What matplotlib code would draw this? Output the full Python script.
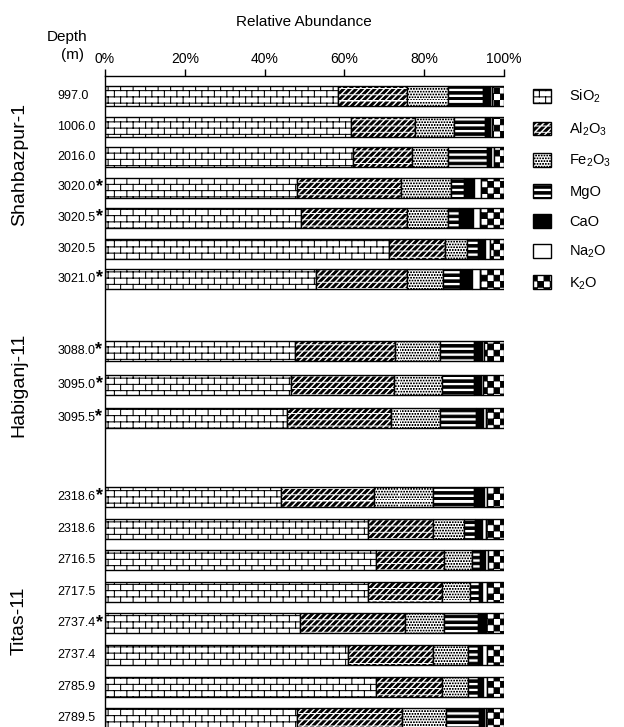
import numpy as np
import matplotlib
matplotlib.use('Agg')
import matplotlib.pyplot as plt
import matplotlib.hatch as mhatch
from matplotlib.path import Path
from matplotlib.patches import Patch

# ---- data -----------------------------------------------------------------
wells = ['Shahbazpur-1', 'Habiganj-11', 'Titas-11']
depths = [
    ['997.0', '1006.0', '2016.0', '3020.0*', '3020.5*', '3020.5', '3021.0*'],
    ['3088.0*', '3095.0*', '3095.5*'],
    ['2318.6*', '2318.6', '2716.5', '2717.5', '2737.4*', '2737.4', '2785.9', '2789.5'],
]
oxides = ['SiO$_2$', 'Al$_2$O$_3$', 'Fe$_2$O$_3$', 'MgO', 'CaO', 'Na$_2$O', 'K$_2$O']

# relative abundance (%) per oxide, samples in the order above
sio2  = [58.3, 61.6, 62.1, 48.0, 49.0, 71.3, 52.9, 47.5, 46.5, 45.5, 44.0, 65.8, 67.8, 66.0, 48.9, 61.0, 67.8, 48.2]
al2o3 = [17.5, 16.2, 14.9, 26.3, 26.6, 13.9, 22.7, 25.2, 26.0, 26.2, 23.4, 16.5, 17.2, 18.4, 26.3, 21.3, 16.6, 26.2]
fe2o3 = [10.2,  9.7,  9.0, 12.4, 10.4,  5.5,  9.2, 11.3, 11.9, 12.2, 14.9,  7.8,  6.9,  7.1,  9.8,  8.6,  6.7, 11.0]
mgo   = [ 8.8,  7.8,  9.7,  3.3,  2.8,  2.8,  4.2,  8.5,  8.0,  9.0, 10.1,  2.6,  2.2,  2.3,  8.6,  2.7,  2.5,  8.4]
cao   = [ 1.7,  1.2,  1.1,  2.6,  3.4,  1.8,  3.1,  1.9,  1.8,  1.9,  2.7,  1.9,  1.1,  0.8,  1.6,  1.0,  1.2,  1.2]
na2o  = [ 0.6,  0.5,  0.8,  1.7,  1.9,  1.2,  2.0,  0.6,  0.5,  0.7,  0.7,  0.9,  0.9,  1.1,  0.3,  1.2,  1.0,  0.5]
k2o   = [ 2.9,  3.0,  2.4,  5.7,  5.9,  3.5,  5.9,  5.0,  5.3,  4.5,  4.2,  4.5,  3.9,  4.3,  4.5,  4.2,  4.2,  4.5]


# ---- custom fill patterns (1 tile = 1 inch) --------------------------------
class Bricks(mhatch.HatchPatternBase):
    def __init__(self, hatch, density):
        self.n = 16 if 'o' in hatch else 0
        self.num_vertices = self.n * 2 + (self.n + 1) * (self.n // 2) * 2 if self.n else 0

    def set_vertices_and_codes(self, vertices, codes):
        n = self.n
        h = 1.0 / n
        v = []
        for k in range(n):
            y = (k + 0.5) * h
            v += [(0, y), (1, y)]
        for k in range(-1, n):
            off = (k % 2) * h + 0.3 * h
            for j in range(n // 2):
                x = j * 2 * h + off
                v += [(x, (k + 0.5) * h), (x, (k + 1.5) * h)]
        vertices[:] = v
        codes[0::2] = Path.MOVETO
        codes[1::2] = Path.LINETO


def _boxes(vertices, codes, polys):
    pts = []
    for p in polys:
        pts += list(p) + [p[0]]
    vertices[:] = pts
    codes[:] = np.tile([Path.MOVETO, Path.LINETO, Path.LINETO, Path.LINETO, Path.CLOSEPOLY], len(polys))


class Checks(mhatch.HatchPatternBase):
    def __init__(self, hatch, density):
        self.n = 16 if 'O' in hatch else 0
        self.num_vertices = self.n * self.n // 2 * 5

    def set_vertices_and_codes(self, vertices, codes):
        s = 1.0 / self.n
        e = 0.003
        polys = []
        for i in range(self.n):
            for j in range(self.n):
                if (i + j) % 2 == 0:
                    x, y = i * s, j * s
                    polys.append([(x + e, y + e), (x + s - e, y + e), (x + s - e, y + s - e), (x + e, y + s - e)])
        _boxes(vertices, codes, polys)


class Stripes(mhatch.HatchPatternBase):
    def __init__(self, hatch, density):
        self.n = 17 if '-' in hatch else 0
        self.num_vertices = self.n * 5

    def set_vertices_and_codes(self, vertices, codes):
        s = 1.0 / self.n
        t = 0.42 * s
        polys = [[(-0.01, k * s), (1.01, k * s), (1.01, k * s + t), (-0.01, k * s + t)] for k in range(self.n)]
        _boxes(vertices, codes, polys)


class DiagDash(mhatch.HatchPatternBase):
    def __init__(self, hatch, density):
        self.n = 16 if '/' in hatch else 0
        self.num_vertices = (2 * self.n + 1) * (self.n + 1) * 5 if self.n else 0

    def set_vertices_and_codes(self, vertices, codes):
        n = self.n
        d = 1.0 / n
        wx, L = 0.027, 0.042
        polys = []
        for m in range(-n, n + 1):
            c = m * d
            for j in range(-1, n):
                a = j * d
                polys.append([(c + a, a), (c + a + wx, a), (c + a + L + wx, a + L), (c + a + L, a + L)])
        _boxes(vertices, codes, polys)


class Dots(mhatch.HatchPatternBase):
    def __init__(self, hatch, density):
        self.n = 36 if '.' in hatch else 0
        self.num_vertices = self.n * self.n * 5

    def set_vertices_and_codes(self, vertices, codes):
        s = 1.0 / self.n
        r = 0.003
        polys = []
        for j in range(self.n):
            for i in range(self.n):
                x = (i + 0.5 * (j % 2)) * s
                y = j * s
                polys.append([(x - r, y - r), (x + r, y - r), (x + r, y + r), (x - r, y + r)])
        _boxes(vertices, codes, polys)


mhatch._hatch_types = [Bricks, Checks, Stripes, DiagDash, Dots]

plt.rcParams['font.family'] = ['Liberation Sans', 'DejaVu Sans']
plt.rcParams['mathtext.fontset'] = 'custom'
plt.rcParams['mathtext.rm'] = 'Liberation Sans'
plt.rcParams['mathtext.default'] = 'regular'
plt.rcParams['hatch.linewidth'] = 0.75
plt.rcParams['hatch.color'] = 'black'

styles = [('white', 'o'), ('white', '/'), ('white', '.'), ('white', '-'),
          ('black', ''), ('white', ''), ('white', 'O')]

# ---- layout (pixels below the top axis line) --------------------------------
group_start = [20, 275, 421]
group_step = [30.5, 33.5, 31.6]
group_label_y = [88, 309, 545]
bar_h = 20

ypos = []
for g, rows in enumerate(depths):
    ypos += [group_start[g] + i * group_step[g] for i in range(len(rows))]
ypos = np.array(ypos)

fig = plt.figure(figsize=(6.24, 7.27), dpi=100)
ax = fig.add_axes([105 / 624, 0, 399 / 624, 651 / 727])
ax.set_xlim(0, 100)
ax.set_ylim(651, 0)

values = np.array([sio2, al2o3, fe2o3, mgo, cao, na2o, k2o])
values = values / values.sum(axis=0) * 100
left = np.zeros(values.shape[1])
for vals, (fc, hatch) in zip(values, styles):
    ax.barh(ypos, vals, left=left, height=bar_h, color=fc, edgecolor='black',
            linewidth=1, hatch=hatch)
    left += vals

ax.xaxis.tick_top()
ax.set_xticks(range(0, 101, 20))
ax.set_xticklabels([f'{v}%' for v in range(0, 101, 20)])
ax.tick_params(axis='x', direction='out', length=5, width=1, labelsize=10, pad=2)
ax.set_yticks([])
for s in ['right', 'bottom']:
    ax.spines[s].set_visible(False)
for s in ['top', 'left']:
    ax.spines[s].set_linewidth(1)

labels = [d for rows in depths for d in rows]
for y, lab in zip(ypos, labels):
    t = ax.text(-12, y, lab.rstrip('*'), ha='left', va='center', fontsize=9)
    if lab.endswith('*'):
        ax.annotate('*', xy=(1, 1), xycoords=t, xytext=(0.2, 2.5), textcoords='offset points',
                    ha='left', va='top', fontsize=13, fontweight='bold')

for w, yl in zip(wells, group_label_y):
    ax.text(-21.5, yl, w, rotation=90, ha='center', va='center', fontsize=14)

fig.text(304 / 624, 1 - 22 / 727, 'Relative Abundance', ha='center', va='center', fontsize=11)
fig.text(67 / 624, 1 - 37 / 727, 'Depth', ha='center', va='center', fontsize=11)
fig.text(72 / 624, 1 - 55 / 727, '(m)', ha='center', va='center', fontsize=11)

handles = [Patch(facecolor=fc, edgecolor='black', linewidth=1, hatch=h) for fc, h in styles]
fig.legend(handles, oxides, loc='upper left', bbox_to_anchor=(533 / 624, 1 - 88 / 727),
           frameon=False, fontsize=10.5, handlelength=1.2, handleheight=1.05,
           handletextpad=1.3, labelspacing=1.03, borderpad=0, borderaxespad=0)

fig.savefig('out.png', dpi=100)
